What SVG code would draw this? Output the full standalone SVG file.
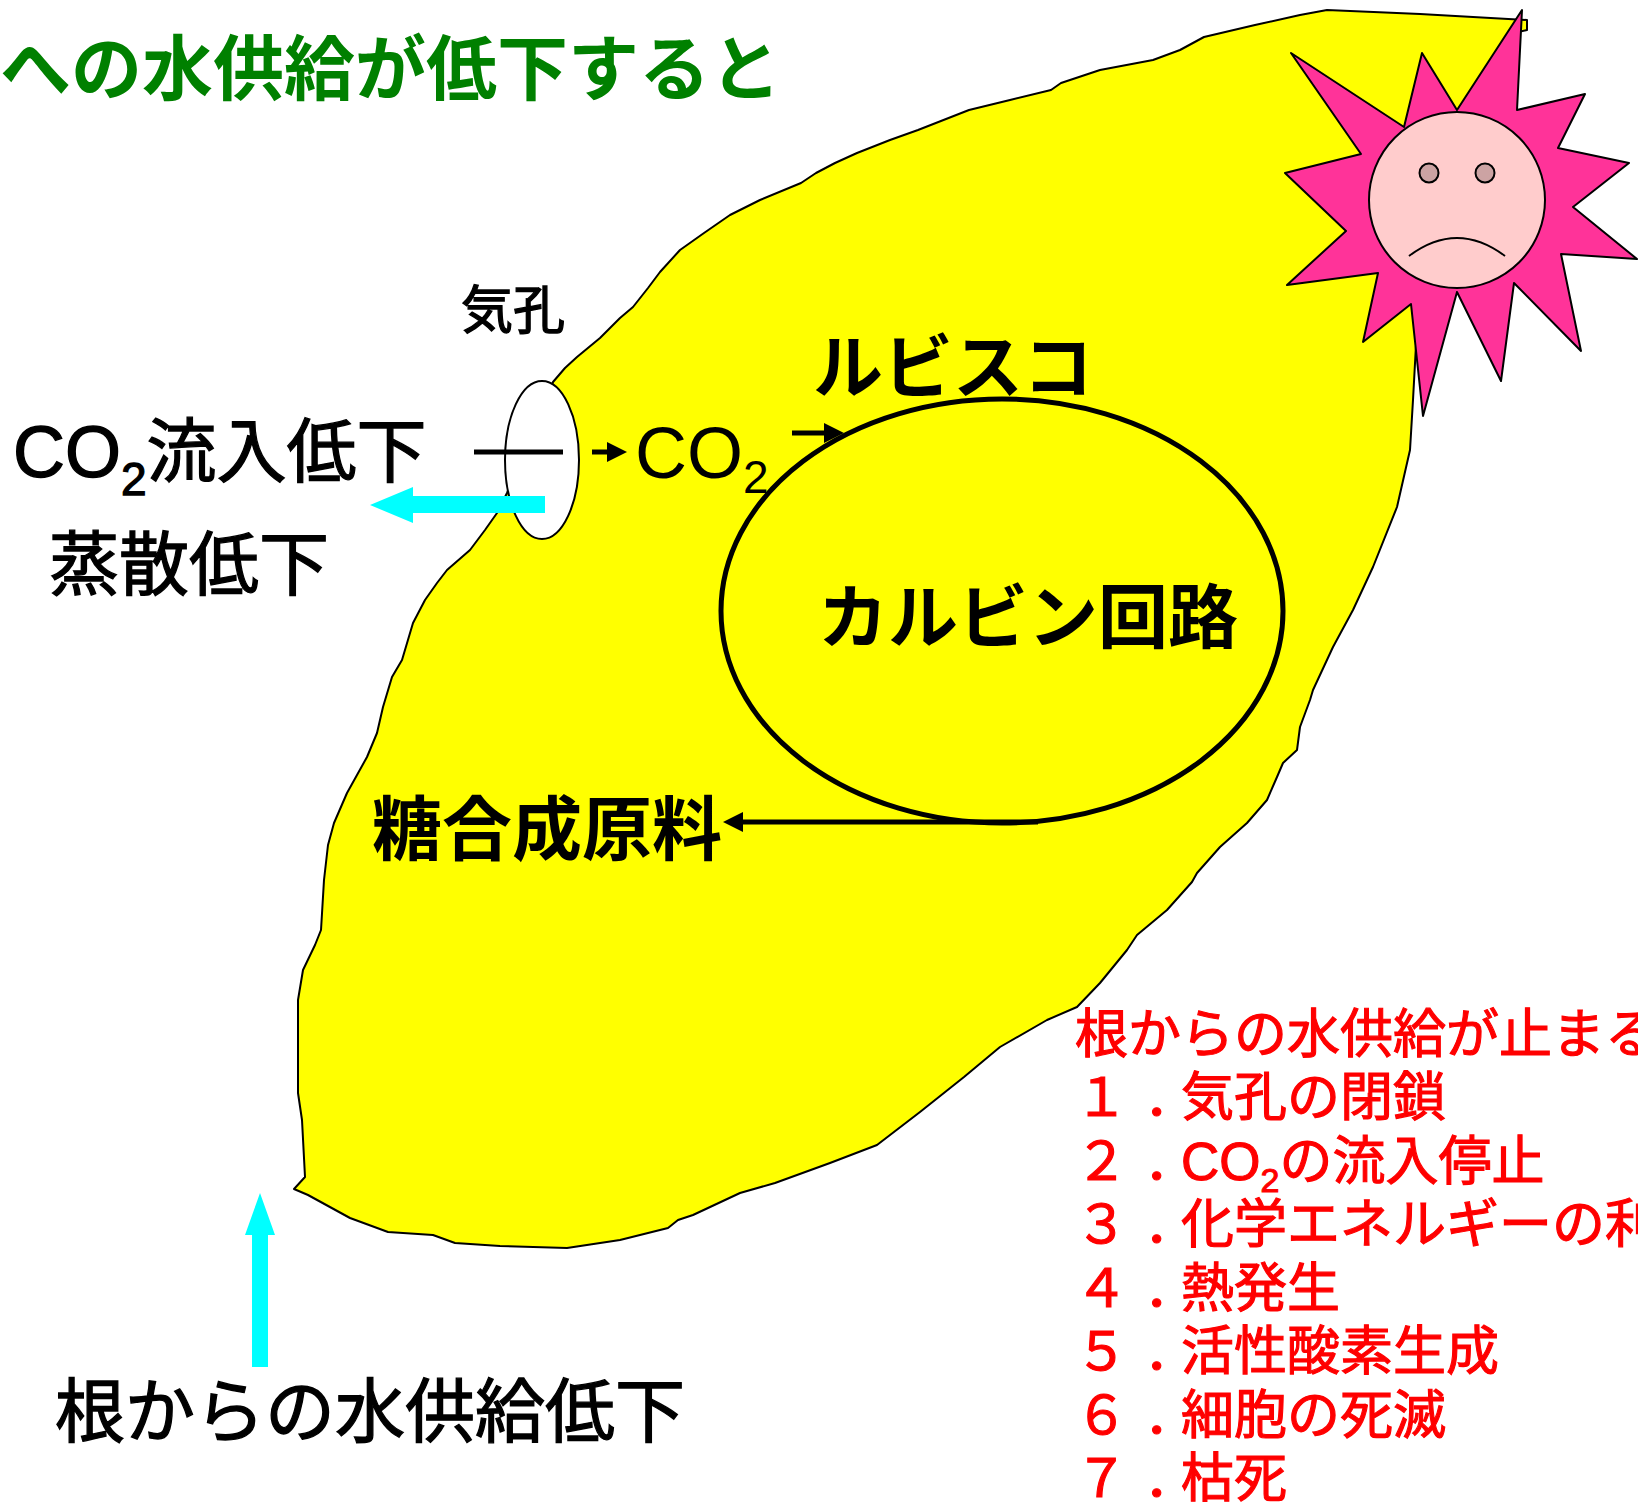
<svg xmlns="http://www.w3.org/2000/svg" width="1638" height="1504" viewBox="0 0 1638 1504">
  <style>
    .jp { font-family: "Noto Sans CJK JP", "Noto Sans", sans-serif; }
    .lat { font-family: "Liberation Sans", Arial, sans-serif; }
    .blk { fill: #000000; }
    .red { fill: #FF0000; }
    .blk.med { stroke: #000000; stroke-width: 1.3; }
    .red.med { stroke: #FF0000; stroke-width: 1.1; }
    .bold { font-weight: 700; }
    .num { letter-spacing: 16px; }
    .dot { letter-spacing: -16px; }
    .outline { stroke: #000000; stroke-width: 2; stroke-linejoin: round; }
    .link { stroke: #000000; stroke-width: 5; fill: none; }
    .flow { fill: #00FFFF; stroke: none; }
  </style>
  <defs>
    <marker id="head" viewBox="0 0 20 20" refX="10" refY="10" markerWidth="20" markerHeight="20" markerUnits="userSpaceOnUse" orient="auto">
      <path d="M0,0 L20,10 L0,20 Z" fill="#000000"/>
    </marker>
  </defs>

  <rect width="1638" height="1504" fill="#FFFFFF"/>

  <!-- leaf blade -->
  <g id="leaf">
    <path class="outline" fill="#FFFF00" d="M553,382 L565,368 L577,357 L600,338 L620,318 L633,307 L648,288 L660,272 L680,250 L704,233 L730,215 L760,200 L801,183 L816,173 L835,163 L857,153 L890,140 L918,130 L969,110 L1010,100 L1051,90 L1061,83 L1100,70 L1153,60 L1180,50 L1204,37 L1255,25 L1300,15 L1327,10 L1420,14 L1527,20 L1527,30 L1518,32 L1512,110 L1480,220 L1430,300 L1416,345 L1413,400 L1410,450 L1397,507 L1373,567 L1353,610 L1333,647 L1313,690 L1310,700 L1300,727 L1297,750 L1283,763 L1277,777 L1267,800 L1247,823 L1220,847 L1197,873 L1192,882 L1167,910 L1137,935 L1127,950 L1100,983 L1077,1007 L1047,1020 L1000,1047 L964,1077 L920,1112 L877,1145 L830,1163 L775,1183 L740,1193 L693,1215 L678,1220 L668,1228 L620,1240 L567,1248 L500,1246 L455,1243 L433,1235 L388,1232 L350,1218 L308,1195 L294,1189 L305,1177 L302,1120 L298,1093 L298,1000 L303,970 L315,945 L321,930 L324,880 L328,845 L334,823 L347,793 L367,757 L377,733 L383,707 L392,677 L402,660 L413,623 L425,600 L437,583 L447,570 L470,550 L485,530 L497,513 L507,493 Z"/>
  </g>

  <!-- stoma -->
  <g id="stoma">
    <ellipse class="outline" cx="542" cy="460" rx="37" ry="79" fill="#FFFFFF"/>
    <text class="jp blk med" x="461" y="329" font-size="52">気孔</text>
  </g>

  <!-- unhappy sun -->
  <g id="sun">
    <polygon class="outline" fill="#FF3399" points="1522,10 1517,110 1585,94 1558,148 1629,163 1573,207 1637,259 1561,254 1581,351 1514,283 1501,381 1457,292 1423,416 1411,304 1363,342 1378,273 1287,285 1346,231 1285,173 1361,154 1291,53 1404,127 1422,53 1457,110"/>
    <circle class="outline" cx="1457" cy="200" r="88" fill="#FFCCCC"/>
    <circle class="outline" cx="1429" cy="173" r="9.5" fill="#CCA3A3"/>
    <circle class="outline" cx="1485" cy="173" r="9.5" fill="#CCA3A3"/>
    <path class="outline" fill="none" d="M1409,256 Q1457,220 1505,256"/>
  </g>

  <!-- labels -->
  <g id="title">
    <text class="jp bold" x="0" y="94" font-size="71" fill="#008000">への水供給が低下すると</text>
  </g>

  <g id="co2-inflow">
    <text class="blk med" x="13" y="477"><tspan class="lat" font-size="72">CO</tspan><tspan class="lat" font-size="46" dy="18">2</tspan><tspan class="jp" font-size="70" dy="-18">流入低下</tspan></text>
  </g>

  <g id="transpiration">
    <text class="jp blk med" x="49" y="590" font-size="70">蒸散低下</text>
  </g>

  <g id="co2">
    <text class="lat blk" x="635" y="478"><tspan font-size="72">CO</tspan><tspan font-size="46" dy="15">2</tspan></text>
  </g>

  <g id="rubisco">
    <text class="jp blk bold" x="813" y="393" font-size="70">ルビスコ</text>
  </g>

  <g id="calvin-cycle">
    <text class="jp blk bold" x="818" y="643" font-size="70">カルビン回路</text>
    <ellipse cx="1002" cy="611" rx="281" ry="212" fill="none" stroke="#000000" stroke-width="5"/>
  </g>

  <g id="sugar-material">
    <text class="jp blk bold" x="372" y="855" font-size="70">糖合成原料</text>
  </g>

  <g id="root-supply">
    <text class="jp blk med" x="55" y="1437" font-size="70">根からの水供給低下</text>
  </g>

  <g id="consequences" class="jp" font-size="53">
    <text class="red med" x="1075" y="1053">根からの水供給が止まると</text>
    <text class="red med" x="1075" y="1116"><tspan class="num">１</tspan><tspan class="dot">．</tspan>気孔の閉鎖</text>
    <text class="red med" x="1075" y="1180"><tspan class="num">２</tspan><tspan class="dot">．</tspan><tspan class="lat">CO</tspan><tspan class="lat" font-size="34" dy="12">2</tspan><tspan dy="-12">の流入停止</tspan></text>
    <text class="red med" x="1075" y="1243"><tspan class="num">３</tspan><tspan class="dot">．</tspan>化学エネルギーの利用</text>
    <text class="red med" x="1075" y="1307"><tspan class="num">４</tspan><tspan class="dot">．</tspan>熱発生</text>
    <text class="red med" x="1075" y="1370"><tspan class="num">５</tspan><tspan class="dot">．</tspan>活性酸素生成</text>
    <text class="red med" x="1075" y="1434"><tspan class="num">６</tspan><tspan class="dot">．</tspan>細胞の死滅</text>
    <text class="red med" x="1075" y="1497"><tspan class="num">７</tspan><tspan class="dot">．</tspan>枯死</text>
  </g>

  <!-- connectors -->
  <g id="connectors">
    <line x1="474" y1="452" x2="563" y2="452" stroke="#000000" stroke-width="5"/>
    <line class="link" x1="592" y1="452" x2="617" y2="452" marker-end="url(#head)"/>
    <line class="link" x1="792" y1="433" x2="834" y2="433" marker-end="url(#head)"/>
    <line class="link" x1="1038" y1="822" x2="733" y2="822" marker-end="url(#head)"/>
    <polygon class="flow" points="545,496 413,496 413,487 370,505 413,523 413,513 545,513"/>
    <polygon class="flow" points="252,1367 268,1367 268,1235 275,1235 260,1193 245,1235 252,1235"/>
  </g>
</svg>
